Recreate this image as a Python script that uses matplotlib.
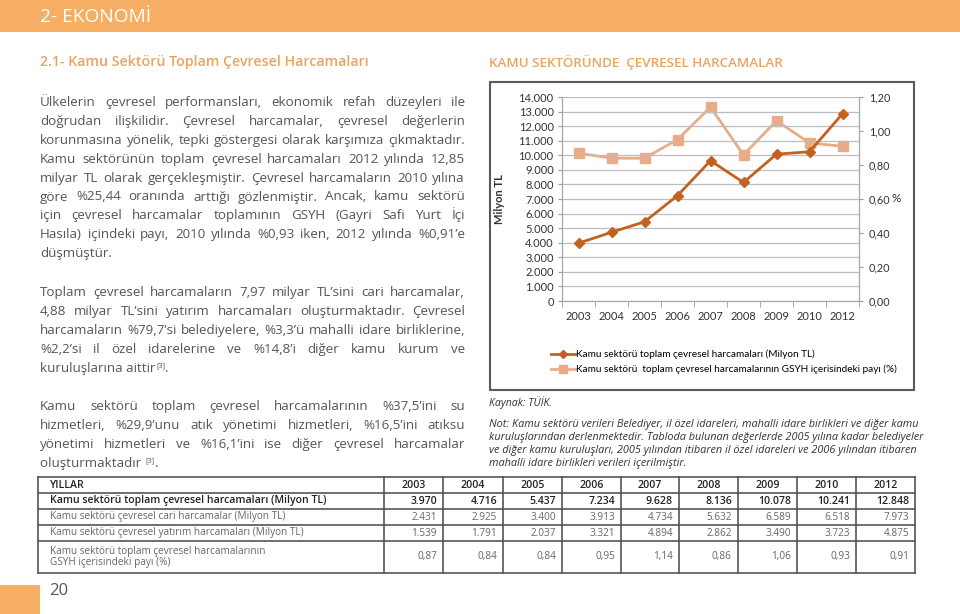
import matplotlib
matplotlib.use("Agg")
import matplotlib.pyplot as plt
from matplotlib.patches import Rectangle

W, H = 960, 614

# ---- data ----
years = ["2003", "2004", "2005", "2006", "2007", "2008", "2009", "2010", "2012"]
toplam = [3970, 4716, 5437, 7234, 9628, 8136, 10078, 10241, 12848]
cari = [2431, 2925, 3400, 3913, 4734, 5632, 6589, 6518, 7973]
yatirim = [1539, 1791, 2037, 3321, 4894, 2862, 3490, 3723, 4875]
gsyh_pay = [0.87, 0.84, 0.84, 0.95, 1.14, 0.86, 1.06, 0.93, 0.91]

row_labels = ["YILLAR",
              "Kamu sektörü toplam çevresel harcamaları (Milyon TL)",
              "Kamu sektörü çevresel cari harcamalar (Milyon TL)",
              "Kamu sektörü çevresel yatırım harcamaları (Milyon TL)",
              "Kamu sektörü toplam çevresel harcamalarının\nGSYH içerisindeki payı (%)"]

legend_labels = ["Kamu sektörü toplam çevresel harcamaları (Milyon TL)",
                 "Kamu sektörü  toplam çevresel harcamalarının GSYH içerisindeki payı (%)"]

para1 = ["Ülkelerin çevresel performansları, ekonomik refah düzeyleri ile",
         "doğrudan ilişkilidir. Çevresel harcamalar, çevresel değerlerin",
         "korunmasına yönelik, tepki göstergesi olarak karşımıza çıkmaktadır.",
         "Kamu sektörünün toplam çevresel harcamaları 2012 yılında 12,85",
         "milyar TL olarak gerçekleşmiştir. Çevresel harcamaların 2010 yılına",
         "göre %25,44 oranında arttığı gözlenmiştir. Ancak, kamu sektörü",
         "için çevresel harcamalar toplamının GSYH (Gayri Safi Yurt İçi",
         "Hasıla) içindeki payı, 2010 yılında %0,93 iken, 2012 yılında %0,91’e",
         "düşmüştür."]
para2 = ["Toplam çevresel harcamaların 7,97 milyar TL’sini cari harcamalar,",
         "4,88 milyar TL’sini yatırım harcamaları oluşturmaktadır. Çevresel",
         "harcamaların %79,7’si belediyelere, %3,3’ü mahalli idare birliklerine,",
         "%2,2’si il özel idarelerine ve %14,8’i diğer kamu kurum ve",
         "kuruluşlarına aittir[3]."]
para3 = ["Kamu sektörü toplam çevresel harcamalarının %37,5’ini su",
         "hizmetleri, %29,9’unu atık yönetimi hizmetleri, %16,5’ini atıksu",
         "yönetimi hizmetleri ve %16,1’ini ise diğer çevresel harcamalar",
         "oluşturmaktadır [3]."]

note_lines = ["Not: Kamu sektörü verileri Belediyer, il özel idareleri, mahalli idare birlikleri ve diğer kamu",
              "kuruluşlarından derlenmektedir. Tabloda bulunan değerlerde 2005 yılına kadar belediyeler",
              "ve diğer kamu kuruluşları, 2005 yılından itibaren il özel idareleri ve 2006 yılından itibaren",
              "mahalli idare birlikleri verileri içerilmiştir."]

ORANGE = "#F5AE63"
TITLE_C = "#EBA35F"
TXT = "#555555"
DARK = "#C3621F"
LIGHT = "#E8AC89"
BODY_FONT = "Open Sans"
CHART_FONT = "Lato"

fig = plt.figure(figsize=(W / 100, H / 100), dpi=100)
page = fig.add_axes([0, 0, 1, 1])
page.set_xlim(0, W)
page.set_ylim(H, 0)
page.axis("off")
r = fig.canvas.get_renderer()


def width_of(t):
    return t.get_window_extent(r).width


def fit(s, x, y, w, **kw):
    t = page.text(x, y, s, fontsize=10, va="center", ha="left", **kw)
    t.set_fontsize(10 * w / width_of(t))
    return t


def size_for(lines, w, **kw):
    ws = []
    for s in lines:
        t = page.text(0, 0, s, fontsize=10, **kw)
        ws.append(width_of(t))
        t.remove()
    return 10 * w / max(ws)


def write_line(s, x, y, size, **kw):
    if "[3]" in s:
        pre, post = s.split("[3]")
        t = page.text(x, y, pre, fontsize=size, va="baseline", **kw)
        x += width_of(t) + 1
        t2 = page.text(x, y - 5, "[3]", fontsize=size * 0.55, va="baseline", **kw)
        x += width_of(t2)
        page.text(x, y, post, fontsize=size, va="baseline", **kw)
    else:
        page.text(x, y, s, fontsize=size, va="baseline", **kw)


def justify(lines, x0, x1, y0, dy, size, **kw):
    # y0 is the centre of the first line; words are set on a common baseline
    for i, s in enumerate(lines):
        y = y0 + i * dy + 4
        if i == len(lines) - 1:
            write_line(s, x0, y, size, **kw)
            continue
        words = s.split()
        ts = [page.text(0, y, w, fontsize=size, va="baseline", **kw) for w in words]
        ws = [width_of(t) for t in ts]
        gap = (x1 - x0 - sum(ws)) / (len(words) - 1)
        x = x0
        for t, w in zip(ts, ws):
            t.set_x(x)
            x += w + gap


# header
page.add_patch(Rectangle((0, 0), W, 32, color=ORANGE, lw=0))
fit("2- EKONOMİ", 40, 17, 111, color="white", family=BODY_FONT)
fit("2.1- Kamu Sektörü Toplam Çevresel Harcamaları", 40, 62, 327,
    color=TITLE_C, family=BODY_FONT, weight="semibold")
fit("KAMU SEKTÖRÜNDE  ÇEVRESEL HARCAMALAR", 489, 62, 294,
    color=TITLE_C, family=BODY_FONT, weight="semibold")

# body text
body_size = size_for(para1 + para2 + para3, 424, family=BODY_FONT) * 0.99
kw = dict(family=BODY_FONT, color=TXT)
justify(para1, 40, 465, 102, 18.9, body_size, **kw)
justify(para2, 40, 465, 292, 19.0, body_size, **kw)
justify(para3, 40, 465, 406, 19.0, body_size, **kw)

# chart frame
page.add_patch(Rectangle((490, 82), 424, 308, fill=False, ec="#5a5a5a", lw=1.5))

ax = fig.add_axes([562 / W, 1 - 301 / H, (859 - 562) / W, (301 - 97) / H])
ax2 = ax.twinx()
x = list(range(len(years)))
l1, = ax.plot(x, toplam, color=DARK, marker="D", ms=5.5, lw=2, zorder=3)
l2, = ax2.plot(x, gsyh_pay, color=LIGHT, marker="s", ms=6.5, lw=2, zorder=3)
ax.set_zorder(ax2.get_zorder() + 1)
ax.patch.set_visible(False)

ax.set_xlim(-0.5, len(years) - 0.5)
ax.set_ylim(0, 14000)
ax.set_yticks(range(0, 14001, 1000))
ax.set_yticklabels([f"{v:,}".replace(",", ".") for v in range(0, 14001, 1000)])
ax2.set_ylim(0, 1.2)
ax2.set_yticks([0, 0.2, 0.4, 0.6, 0.8, 1.0, 1.2])
ax2.set_yticklabels([f"{v:.2f}".replace(".", ",") for v in [0, 0.2, 0.4, 0.6, 0.8, 1.0, 1.2]])
ax.set_xticks(x)
ax.set_xticklabels(years)
ax.set_xticks([i - 0.5 for i in range(len(years) + 1)], minor=True)
ax.tick_params(axis="x", which="major", length=0, pad=7)
ax.tick_params(axis="x", which="minor", length=4, color="#999999")
ax.tick_params(axis="y", length=3, color="#999999", pad=3)
ax2.tick_params(axis="y", length=3, color="#999999", pad=4)
ax.grid(axis="y", color="#BDBDBD", lw=0.9)
ax.set_axisbelow(True)
for a in (ax, ax2):
    a.spines["top"].set_visible(False)
    for sp in ("left", "right", "bottom"):
        a.spines[sp].set_color("#A6A6A6")
for lab in ax.get_xticklabels() + ax.get_yticklabels():
    lab.set_family(CHART_FONT)
    lab.set_fontsize(8)
    lab.set_color("#333333")
for lab in ax2.get_yticklabels():
    lab.set_family(CHART_FONT)
    lab.set_fontsize(7.8)
    lab.set_color("#333333")
ax.set_ylabel("Milyon TL", family=CHART_FONT, fontsize=8, weight="bold", color="#333333")
ax.yaxis.set_label_coords((505 - 562) / 297, 0.5)
ax2.set_ylabel("%", family=CHART_FONT, fontsize=8.5, color="#333333", rotation=0,
               va="center", ha="left")
ax2.yaxis.set_label_coords((892 - 562) / 297, (301 - 199) / 204)

leg_size = size_for(legend_labels[1:], 320, family=CHART_FONT)
fig.legend([l1, l2], legend_labels, loc="center left",
           bbox_to_anchor=(547 / W, 1 - 362 / H), frameon=False,
           prop={"family": CHART_FONT, "size": leg_size}, handlelength=2.4,
           handletextpad=0.1, labelspacing=0.55, borderaxespad=0, markerscale=0.8)

# source and note
fit("Kaynak: TÜİK.", 489, 403, 63, color="#333333", family=BODY_FONT, style="italic")
note_size = size_for(note_lines[1:2], 437, family=BODY_FONT, style="italic")
for i, s in enumerate(note_lines):
    page.text(489, 425 + i * 12.7, s, fontsize=note_size, va="center",
              family=BODY_FONT, style="italic", color="#333333")

# table
col_edges = [38, 384, 443, 503, 562, 621, 679, 738, 797, 856, 915]
row_edges = [477, 493, 509, 525, 541, 573]
for yy in row_edges:
    page.plot([col_edges[0], col_edges[-1]], [yy, yy], color="#555555", lw=1.2)
for xx in col_edges:
    page.plot([xx, xx], [row_edges[0], row_edges[-1]], color="#555555", lw=1.2)

rows = [years,
        [f"{v:,}".replace(",", ".") for v in toplam],
        [f"{v:,}".replace(",", ".") for v in cari],
        [f"{v:,}".replace(",", ".") for v in yatirim],
        [f"{v:.2f}".replace(".", ",") for v in gsyh_pay]]
for ri, (lab, vals) in enumerate(zip(row_labels, rows)):
    yc = (row_edges[ri] + row_edges[ri + 1]) / 2
    bold = ri < 2
    col = "#222222" if bold else "#666666"
    wt = "semibold" if bold else "normal"
    fs = 7.6 if bold else 7.2
    page.text(50, yc, lab, fontsize=fs, va="center", ha="left", family=BODY_FONT,
              weight=wt, color=col, linespacing=1.05)
    for ci, v in enumerate(vals):
        if ri == 0:
            xc = (col_edges[ci + 1] + col_edges[ci + 2]) / 2
            page.text(xc, yc, v, fontsize=fs, va="center", ha="center",
                      family=BODY_FONT, weight=wt, color=col)
        else:
            page.text(col_edges[ci + 2] - 6, yc, v, fontsize=fs, va="center",
                      ha="right", family=BODY_FONT, weight=wt, color=col)

# page number
page.add_patch(Rectangle((0, 585), 40, 29, color=ORANGE, lw=0))
page.text(49, 591, "20", fontsize=12, va="center", ha="left", family=BODY_FONT, color="#555555")

fig.savefig("out.png", dpi=100)
